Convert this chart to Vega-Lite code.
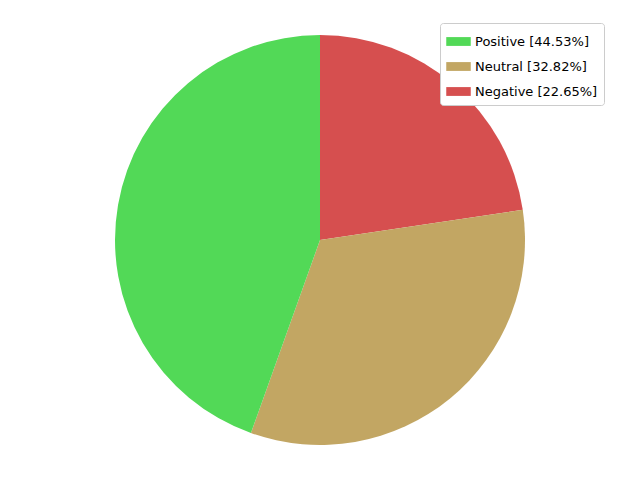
{
  "$schema": "https://vega.github.io/schema/vega-lite/v6.json",
  "width": 640,
  "height": 480,
  "autosize": {"type": "fit", "contains": "padding"},
  "padding": 0,
  "background": "white",
  "config": {"view": {"stroke": null}},
  "data": {
    "values": [
      {"label": "Negative [22.65%]", "share": 22.65, "rank": 1},
      {"label": "Neutral [32.82%]", "share": 32.82, "rank": 2},
      {"label": "Positive [44.53%]", "share": 44.53, "rank": 3}
    ]
  },
  "mark": {"type": "arc", "outerRadius": 205},
  "encoding": {
    "theta": {"field": "share", "type": "quantitative", "stack": true},
    "order": {"field": "rank", "type": "quantitative"},
    "color": {
      "field": "label",
      "type": "nominal",
      "scale": {
        "domain": ["Positive [44.53%]", "Neutral [32.82%]", "Negative [22.65%]"],
        "range": ["#52d957", "#c2a663", "#d64f4f"]
      },
      "legend": {
        "title": null,
        "orient": "none",
        "legendX": 440,
        "legendY": 23,
        "symbolType": "M-1,-0.36H1V0.36H-1Z",
        "symbolSize": 600,
        "symbolStrokeWidth": 0,
        "symbolOpacity": 1,
        "labelFont": "DejaVu Sans",
        "labelFontSize": 13,
        "labelColor": "#000000",
        "rowPadding": 5,
        "padding": 6,
        "strokeColor": "#cccccc",
        "fillColor": "white",
        "cornerRadius": 3
      }
    }
  }
}
